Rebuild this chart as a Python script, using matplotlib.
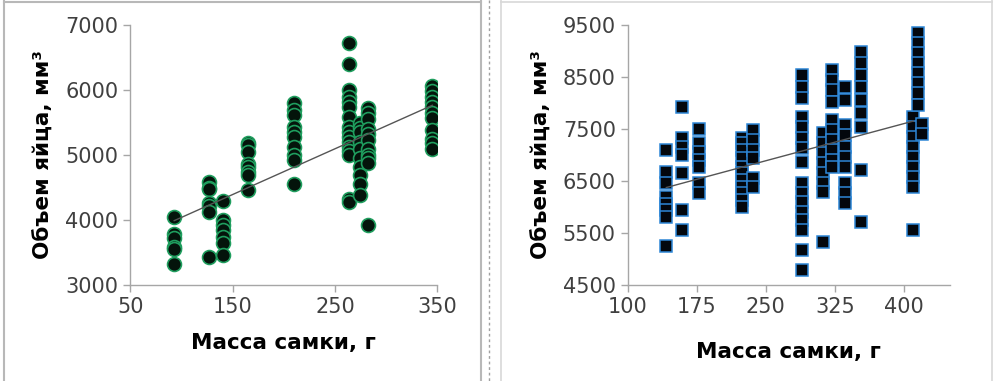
import numpy as np
import matplotlib.pyplot as plt
from matplotlib.lines import Line2D

# left chart: female mass (g) -> egg volumes (mm3)
left_mass = [93, 127, 141, 165, 210, 264, 274, 282, 345]
left_vol = [
    [4040, 3780, 3720, 3580, 3560, 3330],
    [4580, 4500, 4480, 4260, 4220, 4130, 3430],
    [4290, 4000, 3920, 3850, 3740, 3640, 3460],
    [5180, 5150, 5040, 4870, 4820, 4740, 4690, 4460],
    [5800, 5700, 5615, 5430, 5350, 5280, 5130, 5000, 4920, 4560],
    [6720, 6400, 6000, 5890, 5820, 5740, 5580, 5430, 5350, 5280,
     5200, 5120, 5060, 5000, 4320, 4280],
    [5490, 5420, 5350, 5200, 5100, 4950, 4810, 4700, 4560, 4390],
    [5720, 5640, 5560, 5400, 5320, 5230, 5100, 5000, 4950, 4880, 3920],
    [6060, 5980, 5900, 5820, 5740, 5650, 5570, 5380, 5250, 5180, 5100],
]

# right chart
right_mass = [142, 159, 177, 224, 236, 289, 312, 322, 336, 353, 410, 415, 420]
right_vol = [
    [7096, 6680, 6455, 6190, 6060, 5940, 5810, 5250],
    [7920, 7330, 7160, 7000, 6650, 5940, 5560],
    [7510, 7230, 7060, 6900, 6770, 6460, 6270],
    [7330, 7230, 7100, 6940, 6770, 6650, 6520, 6390, 6270, 6130, 6000],
    [7480, 7290, 7100, 6940, 6560, 6390],
    [8540, 8310, 8100, 7730, 7540, 7330, 7130, 6870, 6460, 6270, 6100,
     5900, 5750, 5560, 5170, 4780],
    [7420, 7230, 7040, 6850, 6650, 6460, 6290, 5330],
    [8630, 8440, 8250, 8020, 7670, 7480, 7290, 7100, 6900, 6770],
    [8310, 8060, 7580, 7390, 7160, 6960, 6770, 6460, 6270, 6080],
    [8980, 8770, 8540, 8310, 8060, 7810, 7540, 6710, 5710],
    [7730, 7540, 7350, 7160, 6960, 6770, 6580, 6390, 5560],
    [9350, 9150, 8960, 8770, 8580, 8380, 8190, 7960],
    [7600, 7400],
]

xlabel = 'Масса самки, г'
ylabel = 'Объем яйца, мм³'


def flat(mass, vol):
    xs = np.concatenate([[m] * len(v) for m, v in zip(mass, vol)])
    ys = np.concatenate(vol)
    return xs, ys


def style(ax, xlim, ylim, xticks, yticks, xpad):
    ax.set_xlim(*xlim)
    ax.set_ylim(*ylim)
    ax.set_xticks(xticks)
    ax.set_yticks(yticks)
    for s in ['top', 'right']:
        ax.spines[s].set_visible(False)
    for s in ['left', 'bottom']:
        ax.spines[s].set_color('#a6a6a6')
        ax.spines[s].set_linewidth(1.0)
    ax.tick_params(colors='#a6a6a6', labelcolor='#404040', labelsize=15,
                   length=5, width=1.0)
    ax.set_xlabel(xlabel, fontsize=15.5, fontweight='bold', labelpad=xpad)
    ax.set_ylabel(ylabel, fontsize=15.5, fontweight='bold', labelpad=8)


fig = plt.figure(figsize=(10.01, 3.81), dpi=100)

ax1 = fig.add_axes([0.130, 0.252, 0.307, 0.682])
x1, y1 = flat(left_mass, left_vol)
ax1.plot(x1, y1, 'o', ms=10, mfc='#04140b', mec='#1f9e5e', mew=1.2, zorder=3)
k1 = np.polyfit(x1, y1, 1)
xx = np.array([x1.min(), x1.max()])
ax1.plot(xx, np.polyval(k1, xx), color='#555555', lw=1.0, zorder=4)
style(ax1, (50, 350), (3000, 7000), [50, 150, 250, 350],
      [3000, 4000, 5000, 6000, 7000], 12)

ax2 = fig.add_axes([0.627, 0.252, 0.322, 0.682])
x2, y2 = flat(right_mass, right_vol)
ax2.plot(x2, y2, 's', ms=9, mfc='#03070d', mec='#2d86d6', mew=1.1, zorder=3)
k2 = np.polyfit(x2, y2, 1)
xx = np.array([x2.min(), 410])
ax2.plot(xx, np.polyval(k2, xx), color='#555555', lw=1.0, zorder=4)
style(ax2, (100, 450), (4500, 9500), [100, 175, 250, 325, 400],
      [4500, 5500, 6500, 7500, 8500, 9500], 18)

# panel borders
W, H = 1001, 381
def vline(x, y0, y1, **kw):
    fig.add_artist(Line2D([x / W, x / W], [1 - y0 / H, 1 - y1 / H],
                          transform=fig.transFigure, **kw))

def hline(x0, x1, y, **kw):
    fig.add_artist(Line2D([x0 / W, x1 / W], [1 - y / H, 1 - y / H],
                          transform=fig.transFigure, **kw))

vline(4, 1, 381, color='#b8b8b8', lw=1.5)
vline(481, 1, 381, color='#b8b8b8', lw=1.5)
hline(4, 481, 1.5, color='#b8b8b8', lw=1.5)
vline(489, 0, 381, color='#a0a0a0', lw=1.0, ls=(0, (2, 2)))
vline(501, 0, 381, color='#d8d8d8', lw=1.2)
vline(992, 0, 381, color='#d8d8d8', lw=1.2)
hline(501, 992, 1.5, color='#d8d8d8', lw=1.2)

fig.savefig('out.png', dpi=100)
